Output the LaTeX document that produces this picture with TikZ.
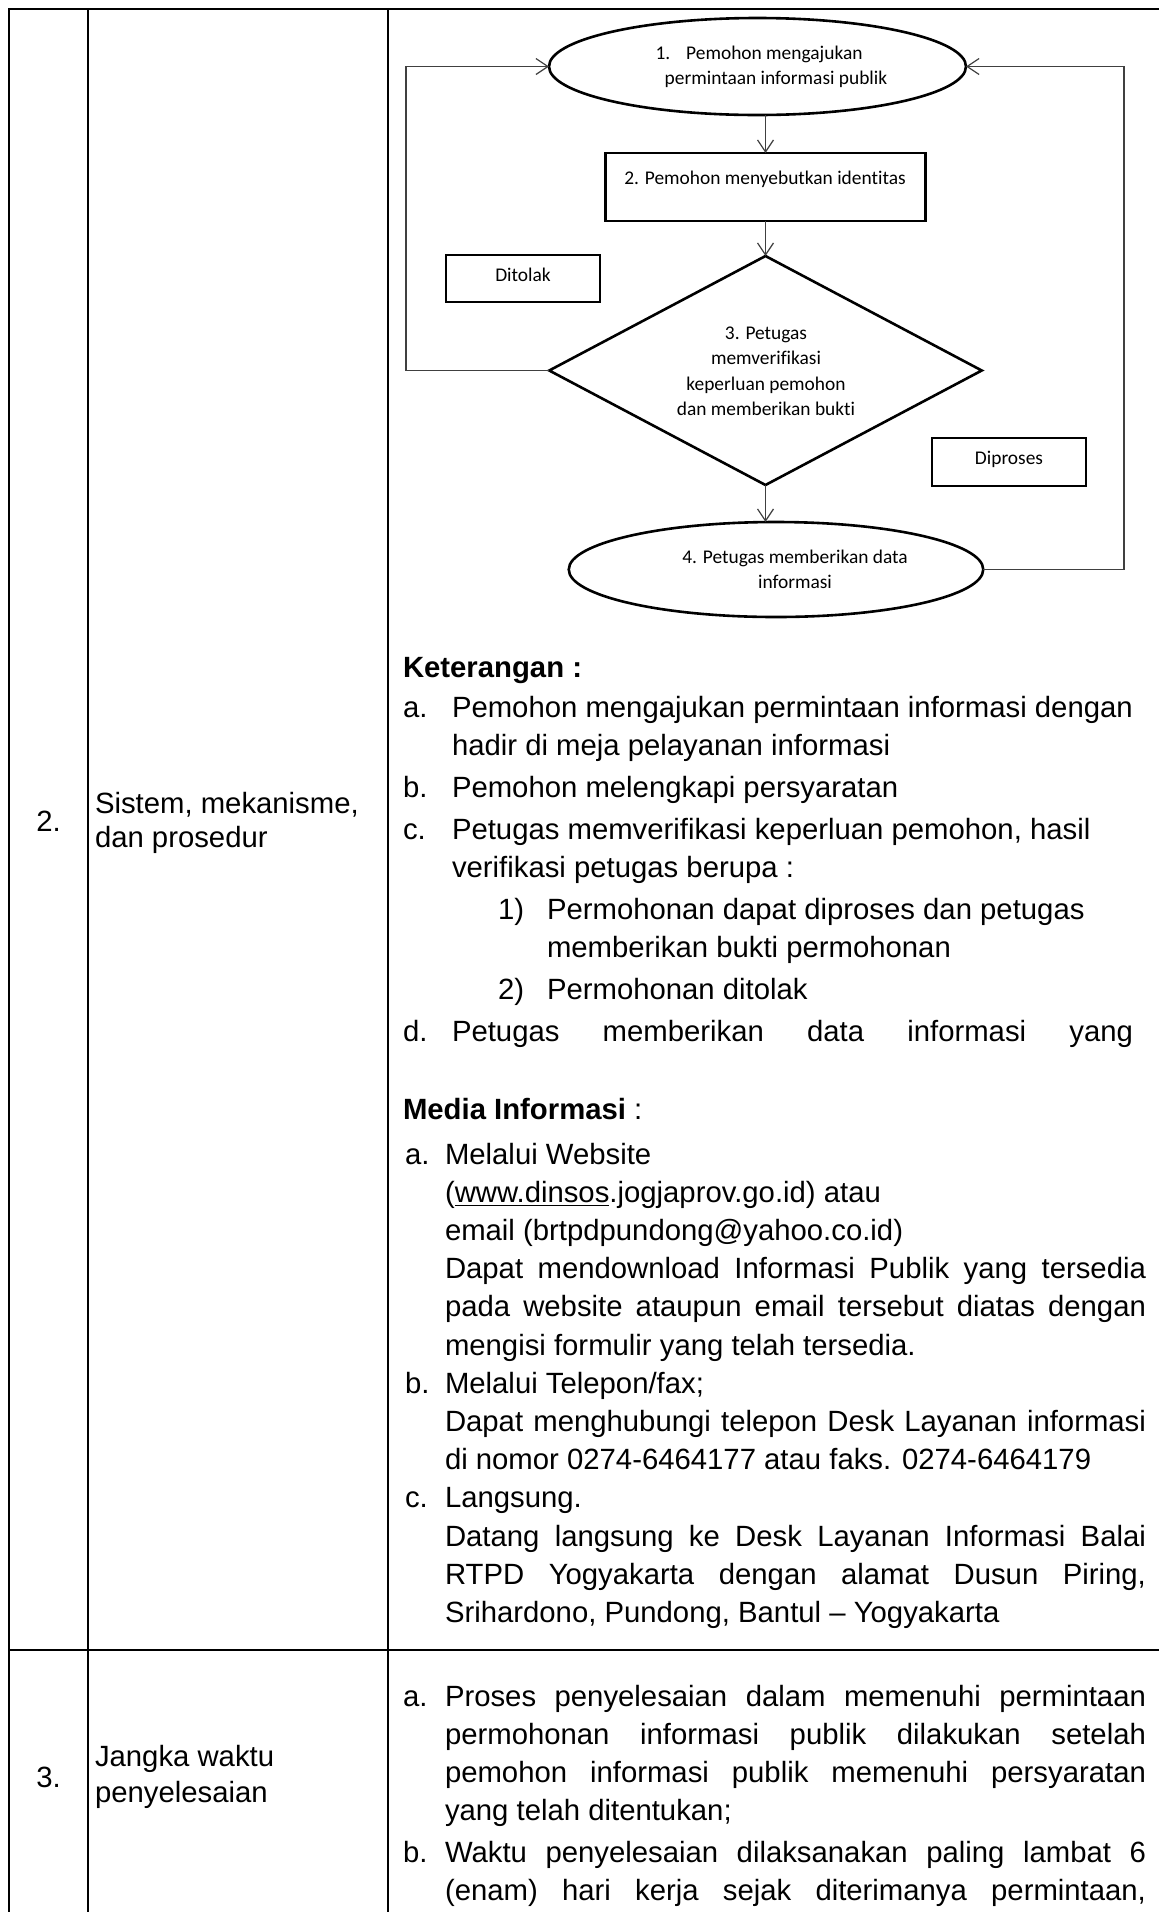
\documentclass[tikz,border=0pt]{standalone}
\usepackage{fontspec}
\setmainfont{Liberation Sans}
\newfontfamily\carlito[Ligatures=NoCommon]{Carlito}
\usetikzlibrary{shapes.geometric,arrows.meta}
\newcommand{\tabfont}{\fontsize{14.65pt}{17pt}\selectfont}
\newcommand{\flowfont}{\carlito\fontsize{9.7pt}{11pt}\selectfont}
\newcommand{\jl}[2]{\makebox[#1][s]{#2}}
\begin{document}
\begin{tikzpicture}[x=0.5pt,y=-0.5pt,
  tl/.style={inner sep=0pt,outer sep=0pt,anchor=base west,font=\tabfont},
  tc/.style={inner sep=0pt,outer sep=0pt,anchor=base,font=\tabfont},
  fl/.style={inner sep=0pt,outer sep=0pt,anchor=base,font=\flowfont},
  shp/.style={draw,line width=1.3pt,inner sep=0pt,outer sep=0pt},
  arr/.style={draw=black!75,line width=0.6pt,-{Straight Barb[length=6pt,width=8pt]}},
  grid/.style={line width=1.1pt}]
\useasboundingbox (0,0) rectangle (1159,1912);
\fill[white] (0,0) rectangle (1159,1912);

% table rules
\draw[grid] (9,1912) -- (9,9) -- (1159,9);
\draw[grid] (88,9) -- (88,1912);
\draw[grid] (388,9) -- (388,1912);
\draw[grid] (9,1650) -- (1159,1650);

% flowchart shapes
\node[shp,ellipse,minimum width=208.5pt,minimum height=48.5pt] (e1) at (757.5,66.5) {};
\node[shp,rectangle,minimum width=160pt,minimum height=34pt] (b2) at (765.5,187) {};
\node[shp,diamond,minimum width=216.25pt,minimum height=114.5pt] (dia) at (765.5,370.5) {};
\node[shp,rectangle,minimum width=77pt,minimum height=23.5pt] (dtb) at (523,278.5) {};
\node[shp,rectangle,minimum width=77pt,minimum height=24pt] (dpb) at (1009,462) {};
\node[shp,ellipse,minimum width=207.25pt,minimum height=47.5pt] (e4) at (776,569.5) {};

% flowchart texts
\node[fl] (e1t1) at (759,59) {1.\hspace{8pt}Pemohon mengajukan};
\node[fl] (e1t2) at (776,84) {permintaan informasi publik};
\node[fl] (b2t) at (765,184) {2. Pemohon menyebutkan identitas};
\node[fl] (dtt) at (523,281) {Ditolak};
\node[fl] (dd1) at (766,339) {3. Petugas};
\node[fl] (dd2) at (766,364) {memverifikasi};
\node[fl] (dd3) at (766,390) {keperluan pemohon};
\node[fl] (dd4) at (766,415) {dan memberikan bukti};
\node[fl] (dpt) at (1009,464) {Diproses};
\node[fl] (e4t1) at (795,563) {4. Petugas memberikan data};
\node[fl] (e4t2) at (795,588) {informasi};

% connectors
\coordinate (lx) at (406,200);
\coordinate (rx) at (1124,300);
\draw[arr] (e1.south -| b2.north) -- (b2.north);
\draw[arr] (b2.south) -- (dia.north);
\draw[arr] (dia.south) -- (dia.south |- e4.north);
\draw[arr] (dia.west) -| (lx) |- (e1.west);
\draw[arr] (e4.east) -| (rx) |- (e1.east);

% left columns
\node[tc] (n2) at (48.5,831) {2.};
\node[tl] (l2a) at (95,813) {Sistem, mekanisme,};
\node[tl] (l2b) at (95,847) {dan prosedur};
\node[tc] (n3) at (48.5,1787) {3.};
\node[tl] (l3a) at (95,1766) {Jangka waktu};
\node[tl] (l3b) at (95,1802) {penyelesaian};

% Keterangan
\node[tl,font=\tabfont\bfseries] (ket) at (403,677) {Keterangan :};
\node[tl] (ka) at (403,717) {a.};
\node[tl] (kat) at (452,717) {Pemohon mengajukan permintaan informasi dengan};
\node[tl] (ka2) at (452,755) {hadir di meja pelayanan informasi};
\node[tl] (kb) at (403,797) {b.};
\node[tl] (kbt) at (452,797) {Pemohon melengkapi persyaratan};
\node[tl] (kc) at (403,839) {c.};
\node[tl] (kct) at (452,839) {Petugas memverifikasi keperluan pemohon, hasil};
\node[tl] (kc2) at (452,877) {verifikasi petugas berupa :};
\node[tl] (k1) at (498,919) {1)};
\node[tl] (k1t) at (547,919) {Permohonan dapat diproses dan petugas};
\node[tl] (k12) at (547,957) {memberikan bukti permohonan};
\node[tl] (k2) at (498,999) {2)};
\node[tl] (k2t) at (547,999) {Permohonan ditolak};
\node[tl] (kd) at (403,1041) {d.};
\node[tl] (kdt) at (452,1041) {\jl{340.5pt}{Petugas memberikan data informasi yang}};

% Media Informasi
\node[tl] (mi) at (403,1119) {\textbf{Media Informasi} :};
\node[tl] (ma) at (405,1164) {a.};
\node[tl] (mat) at (445,1164) {Melalui Website};
\node[tl] (ma2) at (445,1202.2) {(\underline{www.dinsos}.jogjaprov.go.id) atau};
\node[tl] (ma3) at (445,1240.4) {email (brtpdpundong@yahoo.co.id)};
\node[tl] (ma4) at (445,1278.6) {\jl{350.5pt}{Dapat mendownload Informasi Publik yang tersedia}};
\node[tl] (ma5) at (445,1316.8) {\jl{350.5pt}{pada website ataupun email tersebut diatas dengan}};
\node[tl] (ma6) at (445,1355) {mengisi formulir yang telah tersedia.};
\node[tl] (mb) at (405,1393.2) {b.};
\node[tl] (mbt) at (445,1393.2) {Melalui Telepon/fax;};
\node[tl] (mb2) at (445,1431.4) {\jl{350.5pt}{Dapat menghubungi telepon Desk Layanan informasi}};
\node[tl] (mb3) at (445,1469.6) {di nomor 0274-6464177 atau faks. 0274-6464179};
\node[tl] (mc) at (405,1507.8) {c.};
\node[tl] (mct) at (445,1507.8) {Langsung.};
\node[tl] (mc2) at (445,1546) {\jl{350.5pt}{Datang langsung ke Desk Layanan Informasi Balai}};
\node[tl] (mc3) at (445,1584.2) {\jl{350.5pt}{RTPD Yogyakarta dengan alamat Dusun Piring,}};
\node[tl] (mc4) at (445,1622.4) {Srihardono, Pundong, Bantul – Yogyakarta};

% row 3
\node[tl] (ja) at (403,1706) {a.};
\node[tl] (jat) at (445,1706) {\jl{350.5pt}{Proses penyelesaian dalam memenuhi permintaan}};
\node[tl] (ja2) at (445,1744) {\jl{350.5pt}{permohonan informasi publik dilakukan setelah}};
\node[tl] (ja3) at (445,1782) {\jl{350.5pt}{pemohon informasi publik memenuhi persyaratan}};
\node[tl] (ja4) at (445,1820) {yang telah ditentukan;};
\node[tl] (jb) at (403,1862) {b.};
\node[tl] (jbt) at (445,1862) {\jl{350.5pt}{Waktu penyelesaian dilaksanakan paling lambat 6}};
\node[tl] (jb2) at (445,1900) {\jl{350.5pt}{(enam) hari kerja sejak diterimanya permintaan,}};
\end{tikzpicture}
\end{document}
